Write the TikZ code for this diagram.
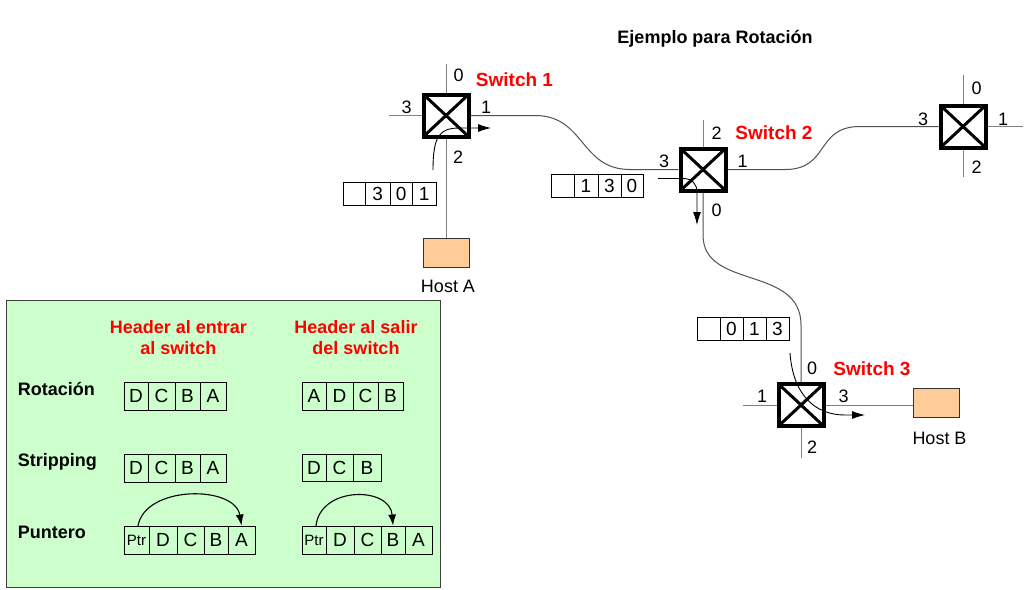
\documentclass[tikz,border=0pt]{standalone}
\usepackage{fontspec}
\setmainfont{Liberation Sans}
\usetikzlibrary{arrows.meta,calc}
\definecolor{hostfill}{HTML}{FFCC99}
\definecolor{panelfill}{HTML}{CCFFCC}
\definecolor{wiregray}{HTML}{505050}
\definecolor{portgray}{HTML}{808080}
\tikzset{
 sw/.style={draw=black, line width=4pt, fill=white, minimum width=45pt, minimum height=42pt, inner sep=0pt,
   path picture={\draw[line width=3pt] (path picture bounding box.north west) -- (path picture bounding box.south east)
     (path picture bounding box.north east) -- (path picture bounding box.south west);}},
 port/.style={draw=portgray, line width=1pt},
 wire/.style={draw=wiregray, line width=1pt},
 flow/.style={draw=black, line width=0.9pt, -{Latex[length=13pt,width=8pt]}},
 ptrarrow/.style={draw=black, line width=1.1pt, -{Latex[length=11pt,width=8pt]}},
 host/.style={draw=black!80, line width=0.9pt, fill=hostfill, minimum width=46pt, minimum height=29pt, inner sep=0pt},
 num/.style={inner sep=0pt, font=\fontsize{18}{20}\selectfont, text=black},
 swname/.style={inner sep=0pt, anchor=base, font=\fontsize{19}{22}\selectfont\bfseries, text=red},
 hdr/.style={inner sep=0pt, anchor=base, font=\fontsize{18}{21}\selectfont\bfseries, text=red},
 rowlab/.style={inner sep=0pt, anchor=base west, font=\fontsize{18}{21}\selectfont\bfseries, text=black},
 cell/.style={draw=black, line width=0.9pt, inner sep=0pt, font=\fontsize{19}{21}\selectfont},
 panel/.style={draw=black!75, line width=1.3pt, fill=panelfill, inner sep=0pt},
}
\newcommand{\cellrow}[4]{%
  \foreach \xa/\xb/\txt [count=\ci] in {#4} {
    \node[cell, minimum width={\xb-\xa}, minimum height={#3-#2}] (#1-\ci) at ({(\xa+\xb)/2},{(#2+#3)/2}) {\txt};
  }}
\begin{document}
\begin{tikzpicture}[x=1pt,y=-1pt]
\useasboundingbox (0,0) rectangle (1025,589);

% title
\node[inner sep=0pt, anchor=base, font=\fontsize{18}{21}\selectfont\bfseries] (title) at (715,43) {Ejemplo para Rotación};

% switches
\node[sw] (s1) at (446,115.5) {};
\node[sw] (s2) at (703,169.5) {};
\node[sw] (s4) at (963,126.5) {};
\node[sw] (s3) at (801,405) {};

% hosts
\node[host] (hA) at (446,252.5) {};
\node[host] (hB) at (936,403) {};
\node[num, anchor=base] (hAl) at (448,292) {Host A};
\node[num, anchor=base] (hBl) at (939.5,444) {Host B};

% free ends
\coordinate (s1p0) at (446,64);
\coordinate (s1p3) at (389,115.5);
\coordinate (s2p2) at (703,120);
\coordinate (s4p0) at (963,75);
\coordinate (s4p1) at (1023,126.5);
\coordinate (s4p2) at (963,177);
\coordinate (s3p1) at (743,405);
\coordinate (s3p2) at (801,458);

% port stubs
\draw[port] (s1.north) -- (s1p0);
\draw[port] (s1.west) -- (s1p3);
\draw[port] (s1.south) -- (hA.north);
\draw[port] (s2.north) -- (s2p2);
\draw[port] (s4.north) -- (s4p0);
\draw[port] (s4.east) -- (s4p1);
\draw[port] (s4.south) -- (s4p2);
\draw[port] (s3.west) -- (s3p1);
\draw[port] (s3.south) -- (s3p2);
\draw[port] (s3.east) -- (s3.east -| hB.west);

% links between switches
\draw[wire] (s1.east) -- (535,115.5) .. controls (585,115.5) and (580,169.5) .. (630,169.5) -- (s2.west);
\draw[wire] (s2.east) -- (785,169.5) .. controls (830,169.5) and (815,126.5) .. (860,126.5) -- (s4.west);
\draw[wire] (s2.south) -- (703,235) .. controls (703,290) and (801,265) .. (801,325) -- (s3.north);

% route arrows
\draw[flow] (433,170) .. controls (433,135) and (440,128) .. (460,128) -- (491,128);
\draw[flow] (658,178.5) -- (683,178.5) .. controls (692,178.5) and (697,184) .. (697,192) -- (697,225);
\draw[flow] (790,353) .. controls (793,395) and (815,415) .. (845,415) -- (865,415);

% port numbers
\node[num] (n10) at (458.5,75) {0};
\node[num] (n13) at (406.5,107) {3};
\node[num] (n11) at (486,107) {1};
\node[num] (n12) at (458,157.5) {2};
\node[num] (n22) at (716.5,133) {2};
\node[num] (n23) at (664,161) {3};
\node[num] (n21) at (742.5,161) {1};
\node[num] (n20) at (716.5,210) {0};
\node[num] (n40) at (976.5,88) {0};
\node[num] (n43) at (923,119) {3};
\node[num] (n41) at (1003,119) {1};
\node[num] (n42) at (976.5,167) {2};
\node[num] (n30) at (812,368) {0};
\node[num] (n31) at (762,396) {1};
\node[num] (n33) at (843.5,396) {3};
\node[num] (n32) at (812,447) {2};

% switch names
\node[swname] (sn1) at (514.5,86) {Switch 1};
\node[swname] (sn2) at (774,139.5) {Switch 2};
\node[swname] (sn3) at (872,375) {Switch 3};

% route headers
\cellrow{h1}{182}{205}{343/365.5/{},365.5/390/3,390/412.5/0,412.5/436/1}
\cellrow{h2}{174}{197.5}{551.5/574/{},574/598/1,598/621/3,621/643/0}
\cellrow{h3}{317}{340}{697/720/{},720/743/0,743/766/1,766/789/3}

% legend panel
\node[panel, minimum width=434pt, minimum height=287pt] (panel) at (223.5,444) {};
\node[hdr] (hd1a) at (178.3,333.3) {Header al entrar};
\node[hdr] (hd1b) at (178.3,354.3) {al switch};
\node[hdr] (hd2a) at (356,333.3) {Header al salir};
\node[hdr] (hd2b) at (356,354.3) {del switch};
\node[rowlab] (rl1) at (17.7,395) {Rotación};
\node[rowlab] (rl2) at (17.7,466.7) {Stripping};
\node[rowlab] (rl3) at (17.7,538.3) {Puntero};

\cellrow{ra}{382}{410}{124/148/D,148/175/C,175/200/B,200/226/A}
\cellrow{rb}{382}{410}{302/326/A,326/353/D,353/378/C,378/403/B}
\cellrow{sa}{454}{482}{124/148/D,148/175/C,175/200/B,200/226/A}
\cellrow{sb}{454}{481}{302/326/D,326/353/C,353/381/B}
\cellrow{pa}{526}{554}{124/149/{\fontsize{15}{17}\selectfont Ptr},149/177/D,177/204/C,204/228/B,228/255/A}
\cellrow{pb}{526}{554}{302/326/{\fontsize{15}{17}\selectfont Ptr},326/354/D,354/381/C,381/405/B,405/432/A}

\draw[ptrarrow] (138,526) .. controls (145,485) and (235,485) .. (pa-5.north);
\draw[ptrarrow] (316,526) .. controls (320,486) and (390,486) .. (pb-4.north);
\end{tikzpicture}
\end{document}
